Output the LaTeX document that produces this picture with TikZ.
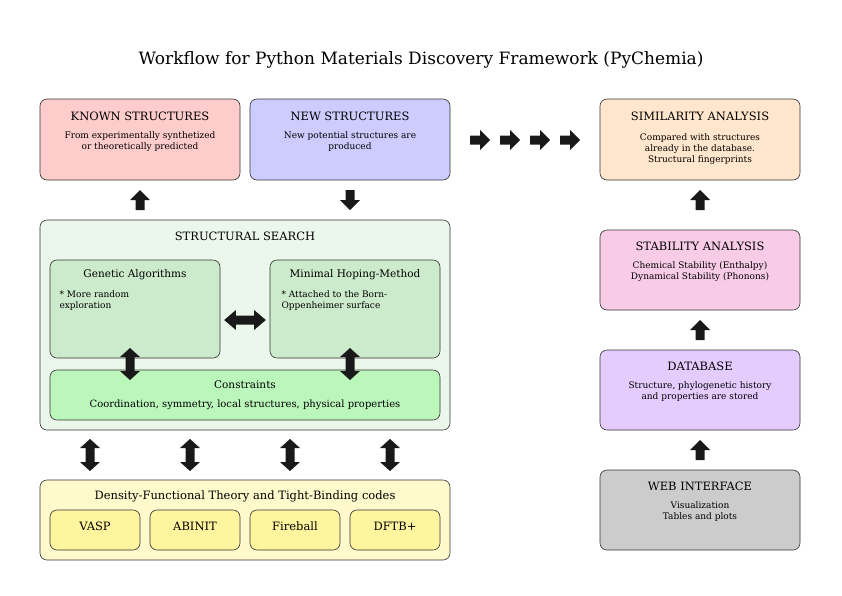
\documentclass[tikz,border=0pt]{standalone}
\usepackage{fontspec}
\setmainfont{DejaVu Serif}
\begin{document}
\begin{tikzpicture}[x=1pt,y=-1pt,
 box/.style={draw=black!80,rounded corners=7pt,line width=0.6pt},
 ttl/.style={font=\fontsize{11.5}{13}\selectfont,align=center},
 txt/.style={font=\fontsize{9}{11}\selectfont,align=center},
 pics/sarr/.style={code={\fill[black!90] (-10,-4.5)--(0,-4.5)--(0,-10)--(10,0)--(0,10)--(0,4.5)--(-10,4.5)--cycle;}},
 pics/darr/.style={code={\fill[black!90] (-16,0)--(-7,-10)--(-7,-4.5)--(7,-4.5)--(7,-10)--(16,0)--(7,10)--(7,4.5)--(-7,4.5)--(-7,10)--cycle;}}]
\useasboundingbox (0,0) rectangle (842,595);
\node[font=\fontsize{17}{19}\selectfont] (title) at (421,60) {Workflow for Python Materials Discovery Framework (PyChemia)};
% top boxes
\draw[box,fill={rgb,255:red,255;green,204;blue,204}] (40,99) rectangle (240,180);
\node[ttl] (k) at (140,116) {KNOWN STRUCTURES};
\node[txt] (kt) at (140,142) {From experimentally synthetized\\or theoretically predicted};
\draw[box,fill={rgb,255:red,204;green,204;blue,255}] (250,99) rectangle (450,180);
\node[ttl] (n) at (350,116) {NEW STRUCTURES};
\node[txt] (nt) at (350,142) {New potential structures are\\produced};
% structural search
\draw[box,fill={rgb,255:red,236;green,247;blue,236}] (40,220) rectangle (450,430);
\node[ttl] (ss) at (245,236) {STRUCTURAL SEARCH};
\draw[box,fill={rgb,255:red,204;green,235;blue,204}] (50,260) rectangle (220,358);
\node[ttl,font=\fontsize{10.5}{12}\selectfont] (g) at (135,275) {Genetic Algorithms};
\node[txt,align=left,anchor=north west] (gt) at (56,287) {* More random\\exploration};
\draw[box,fill={rgb,255:red,204;green,235;blue,204}] (270,260) rectangle (440,358);
\node[ttl,font=\fontsize{10.5}{12}\selectfont] (m) at (355,275) {Minimal Hoping-Method};
\node[txt,align=left,anchor=north west] (mt) at (278,287) {* Attached to the Born-\\Oppenheimer surface};
\draw[box,fill={rgb,255:red,187;green,247;blue,187}] (50,370) rectangle (440,420);
\node[ttl,font=\fontsize{10.5}{12}\selectfont] (c) at (245,385) {Constraints};
\node[ttl,font=\fontsize{10}{12}\selectfont] (ct) at (245,405) {Coordination, symmetry, local structures, physical properties};
% DFT
\draw[box,fill={rgb,255:red,255;green,250;blue,204}] (40,480) rectangle (450,560);
\node[ttl] (d) at (245,496) {Density-Functional Theory and Tight-Binding codes};
\foreach \x/\l/\nm in {50/VASP/va,150/ABINIT/ab,250/Fireball/fb,350/DFTB+/df}{
 \draw[box,fill={rgb,255:red,255;green,245;blue,158}] (\x,510) rectangle (\x+90,550);
 \node[ttl] (\nm) at (\x+45,526) {\l};}
% right column
\draw[box,fill={rgb,255:red,255;green,230;blue,204}] (600,99) rectangle (800,180);
\node[ttl] (s) at (700,116) {SIMILARITY ANALYSIS};
\node[txt] (st) at (700,149) {Compared with structures\\already in the database.\\Structural fingerprints};
\draw[box,fill={rgb,255:red,248;green,204;blue,230}] (600,230) rectangle (800,310);
\node[ttl] (sb) at (700,246) {STABILITY ANALYSIS};
\node[txt] (sbt) at (700,272) {Chemical Stability (Enthalpy)\\Dynamical Stability (Phonons)};
\draw[box,fill={rgb,255:red,229;green,204;blue,255}] (600,350) rectangle (800,430);
\node[ttl] (db) at (700,366) {DATABASE};
\node[txt] (dbt) at (700,392) {Structure, phylogenetic history\\and properties are stored};
\draw[box,fill={rgb,255:red,204;green,204;blue,204}] (600,470) rectangle (800,550);
\node[ttl] (w) at (700,486) {WEB INTERFACE};
\node[txt] (wt) at (700,512) {Visualization\\Tables and plots};
% arrows
\pic[rotate=90] at (140,200) {sarr};
\pic[rotate=-90] at (350,200) {sarr};
\foreach \x in {480,510,540,570} \pic at (\x,140) {sarr};
\foreach \y in {200,330,450} \pic[rotate=90] at (700,\y) {sarr};
\pic[xscale=1.3] at (245,320) {darr};
\pic[rotate=90] at (130,364) {darr};
\pic[rotate=90] at (350,364) {darr};
\foreach \x in {90,190,290,390} \pic[rotate=90] at (\x,455) {darr};
\end{tikzpicture}
\end{document}
